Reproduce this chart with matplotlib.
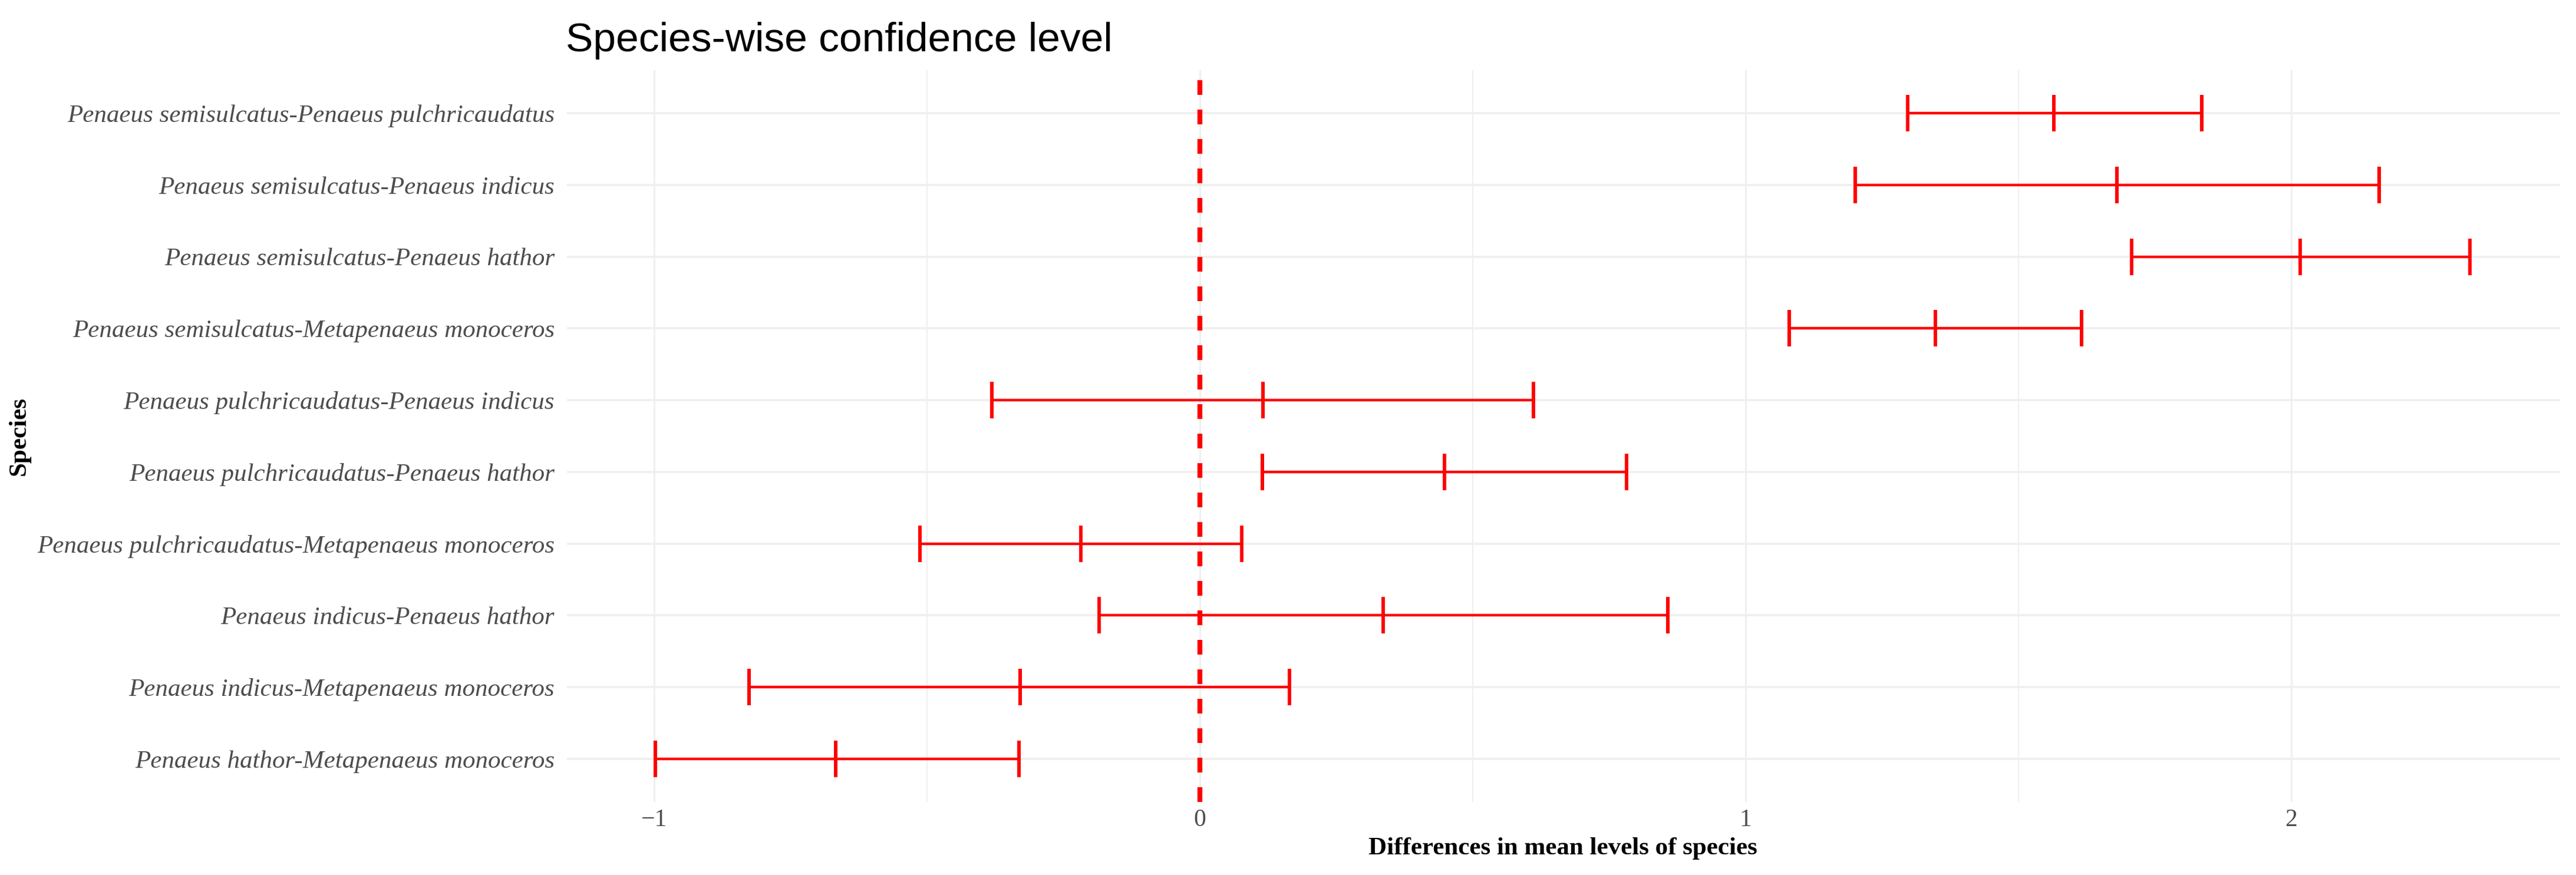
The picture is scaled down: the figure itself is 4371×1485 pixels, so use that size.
import numpy as np
import matplotlib.pyplot as plt

# Tukey comparisons, listed bottom to top
comparisons = [
    "Penaeus hathor-Metapenaeus monoceros",
    "Penaeus indicus-Metapenaeus monoceros",
    "Penaeus indicus-Penaeus hathor",
    "Penaeus pulchricaudatus-Metapenaeus monoceros",
    "Penaeus pulchricaudatus-Penaeus hathor",
    "Penaeus pulchricaudatus-Penaeus indicus",
    "Penaeus semisulcatus-Metapenaeus monoceros",
    "Penaeus semisulcatus-Penaeus hathor",
    "Penaeus semisulcatus-Penaeus indicus",
    "Penaeus semisulcatus-Penaeus pulchricaudatus",
]
diff = [-0.667, -0.329, 0.336, -0.218, 0.448, 0.115, 1.348, 2.016, 1.680, 1.565]
lwr = [-0.998, -0.826, -0.185, -0.513, 0.114, -0.381, 1.080, 1.707, 1.201, 1.297]
upr = [-0.332, 0.164, 0.857, 0.077, 0.782, 0.611, 1.616, 2.327, 2.161, 1.836]

xticks = [-1, 0, 1, 2]
xtick_labels = ["\u22121", "0", "1", "2"]

W, H = 4371, 1485
fig = plt.figure(figsize=(W / 100, H / 100), dpi=100)
ax = fig.add_axes([962 / W, 1 - 1361 / H, (4344 - 962) / W, (1361 - 119) / H])

pos = np.arange(1, len(comparisons) + 1)

# grid like theme_minimal
grid = "#EFEFEF"
for v in xticks:
    ax.axvline(v, color=grid, lw=2.0, zorder=0)
for v in [-0.5, 0.5, 1.5]:
    ax.axvline(v, color=grid, lw=1.4, zorder=0)
for p in pos:
    ax.axhline(p, color=grid, lw=2.6, zorder=0)

ax.axvline(0, color="red", lw=6, ls=(0, (3, 3)), zorder=1)

ax.hlines(pos, lwr, upr, color="red", lw=3.2, zorder=2)
for vals in (lwr, diff, upr):
    ax.plot(vals, pos, ls="none", marker="|", ms=44, mew=4.3, color="red", zorder=3)

ax.set_xlim(-1.160, 2.4925)
ax.set_ylim(0.4, 10.6)
ax.set_xticks(xticks)
ax.set_xticklabels(xtick_labels, family="Liberation Serif", fontsize=30, color="#4D4D4D")
ax.set_yticks(pos)
ax.set_yticklabels(comparisons, family="Liberation Serif", style="italic",
                   fontsize=31, color="#4D4D4D")
ax.tick_params(length=0)
ax.tick_params(axis="y", pad=15)
ax.tick_params(axis="x", pad=8)
for s in ax.spines.values():
    s.set_visible(False)

fig.text(960 / W, 1 - 87 / H, "Species-wise confidence level",
         family="Liberation Sans", fontsize=50, va="baseline", ha="left")
fig.text(2652 / W, 1 - 1450 / H, "Differences in mean levels of species",
         family="Liberation Serif", weight="bold", fontsize=31, ha="center", va="baseline")
fig.text(33 / W, 1 - 740 / H, "Species", family="Liberation Serif", weight="bold",
         fontsize=31, rotation=90, ha="center", va="center")

fig.savefig("out.png", dpi=100, facecolor="white")
